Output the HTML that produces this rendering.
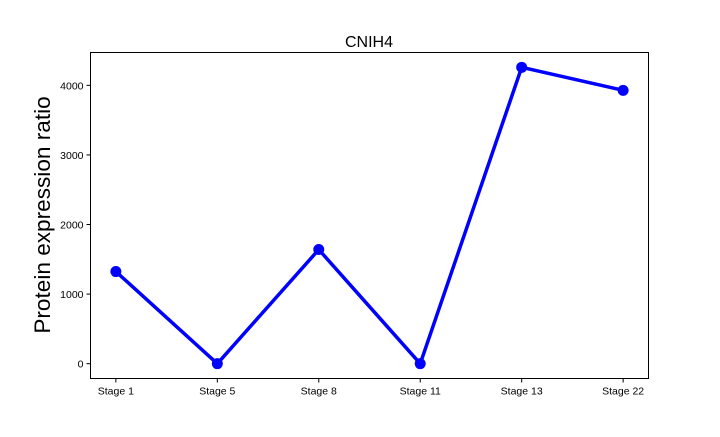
<!DOCTYPE html>
<html><head><meta charset="utf-8"><style>
body{margin:0;background:#fff;}
svg text{font-family:"Liberation Sans",sans-serif;}
</style></head><body>
<svg id="chart" width="720" height="432" xmlns="http://www.w3.org/2000/svg">
<rect width="720" height="432" fill="#fff"/>
<text x="369" y="47" font-size="16" text-anchor="middle">CNIH4</text>
<text transform="translate(50,215) rotate(-90)" font-size="22.6" text-anchor="middle">Protein expression ratio</text>
<g id="axes"></g>
<rect x="90.5" y="52.5" width="558" height="326" fill="none" stroke="#000" stroke-width="1"/>
</svg>
<script>
const categories=["Stage 1","Stage 5","Stage 8","Stage 11","Stage 13","Stage 22"];
const values=[1324,0,1640,0,4259,3928];
const yTicks=[0,1000,2000,3000,4000];
const L=90.5,R=648.5,T=52.5,B=378.5;
const ymin=-213,ymax=4472;
const xs=i=>L+(i+0.25)/(categories.length-0.5)*(R-L);
const ys=v=>B-(v-ymin)/(ymax-ymin)*(B-T);
const ns="http://www.w3.org/2000/svg";
const g=document.getElementById('axes');
function mk(t,a){const e=document.createElementNS(ns,t);for(const k in a)e.setAttribute(k,a[k]);g.appendChild(e);return e;}
yTicks.forEach(v=>{
const y=ys(v);
const tk=mk('line',{x1:L-4,x2:L,y1:y,y2:y,stroke:'#000'});


const t=mk('text',{x:L-7,y:y+4,'font-size':10.5,'text-anchor':'end'});
t.textContent=v;


});
categories.forEach((c,i)=>{
const x=xs(i);
const tk=mk('line',{x1:x,x2:x,y1:B,y2:B+4,stroke:'#000'});


const t=mk('text',{x:x,y:B+16,'font-size':10.5,'text-anchor':'middle'});
t.textContent=c;


});
const pl=mk('polyline',{points:values.map((v,i)=>xs(i)+','+ys(v)).join(' '),fill:'none',stroke:'#0000ff','stroke-width':3.5,'stroke-linejoin':'round'});


values.forEach((v,i)=>{
const c=mk('circle',{cx:xs(i),cy:ys(v),r:5.5,fill:'#0000ff'});


});
</script>
</body></html>
